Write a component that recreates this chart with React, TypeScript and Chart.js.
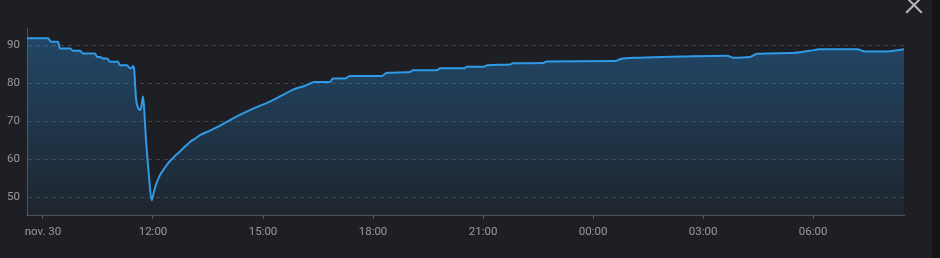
import React, { useEffect, useRef } from "react";
import { Chart, registerables } from "chart.js";

Chart.register(...registerables);

// time in hours since nov. 30 00:00
const times: number[] = [
  8.564, 9.136, 9.218, 9.409, 9.464, 9.736, 9.818, 10.009, 10.091, 10.418,
  10.473, 10.554, 10.636, 10.745, 10.827, 11.045, 11.1, 11.291, 11.373, 11.427,
  11.454, 11.482, 11.536, 11.591, 11.645, 11.686, 11.727, 11.754, 11.809, 11.877,
  11.964, 12.027, 12.109, 12.191, 12.327, 12.463, 12.6, 12.736, 12.873, 13.009,
  13.145, 13.282, 13.554, 13.827, 14.181, 14.509, 14.781, 15.109, 15.463, 15.818,
  16.145, 16.418, 16.827, 16.909, 17.236, 17.372, 18.245, 18.381, 19.008, 19.09,
  19.745, 19.827, 20.481, 20.563, 21.026, 21.108, 21.736, 21.817, 22.636, 22.744,
  24.599, 24.735, 25.28, 26.453, 27.653, 27.817, 28.28, 28.471, 29.371, 29.917,
  30.19, 31.198, 31.416, 32.098, 32.48,
];
const values: number[] = [
  91.8, 91.8, 90.9, 90.9, 89.1, 89.1, 88.5, 88.5, 87.8, 87.8,
  86.9, 86.9, 86.5, 86.5, 85.6, 85.6, 84.7, 84.7, 83.9, 84.0,
  84.5, 84.0, 76.0, 73.5, 72.9, 74.0, 76.5, 74.0, 65.0, 57.0,
  49.2, 51.5, 54.0, 55.8, 57.8, 59.5, 60.8, 62.0, 63.3, 64.5,
  65.4, 66.3, 67.5, 68.8, 70.7, 72.3, 73.5, 74.8, 76.5, 78.3,
  79.3, 80.3, 80.3, 81.2, 81.2, 81.9, 81.9, 82.7, 82.9, 83.4,
  83.4, 83.9, 83.9, 84.3, 84.3, 84.7, 84.9, 85.2, 85.3, 85.7,
  85.8, 86.3, 86.7, 87.0, 87.2, 86.7, 86.9, 87.7, 87.9, 88.5,
  88.9, 88.9, 88.3, 88.4, 88.9,
];
const xTicks: number[] = [9, 12, 15, 18, 21, 24, 27, 30];
const xTickLabels: string[] = ["nov. 30", "12:00", "15:00", "18:00", "21:00", "00:00", "03:00", "06:00"];
const yTicks: number[] = [50, 60, 70, 80, 90];

const X_MIN = 8.564;
const X_MAX = 32.48;
const Y_MIN = 45.3;
const Y_MAX = 94.5;

export default function App() {
  const ref = useRef<HTMLCanvasElement | null>(null);

  useEffect(() => {
    document.body.style.margin = "0";
    document.body.style.background = "#1e1f24";
    const canvas = ref.current;
    if (!canvas) return;
    const points = times.map((t, i) => ({ x: t, y: values[i] }));
    const chart = new Chart(canvas, {
      type: "line",
      data: {
        datasets: [
          {
            data: points,
            borderColor: "#2f9ae6",
            borderWidth: 2,
            pointRadius: 0,
            cubicInterpolationMode: "monotone",
            fill: "start",
            backgroundColor: (ctx: any) => {
              const area = ctx.chart.chartArea;
              if (!area) return "rgba(40,140,220,0.3)";
              const g = ctx.chart.ctx.createLinearGradient(0, area.top, 0, area.bottom);
              g.addColorStop(0, "rgba(40,140,220,0.38)");
              g.addColorStop(1, "rgba(40,140,220,0.06)");
              return g;
            },
          },
        ],
      },
      options: {
        animation: false,
        responsive: false,
        maintainAspectRatio: false,
        layout: { padding: { top: 28, right: 36, left: 0, bottom: 0 } },
        plugins: { legend: { display: false }, tooltip: { enabled: false } },
        scales: {
          x: {
            type: "linear",
            min: X_MIN,
            max: X_MAX,
            afterBuildTicks: (axis: any) => {
              axis.ticks = xTicks.map((v) => ({ value: v }));
            },
            afterFit: (axis: any) => {
              axis.height = 43;
            },
            ticks: {
              color: "#9a9a9c",
              font: { family: "Roboto", size: 11.5 },
              padding: 6,
              maxRotation: 0,
              autoSkip: false,
              callback: (v: any) => {
                const i = xTicks.indexOf(Number(v));
                return i >= 0 ? xTickLabels[i] : "";
              },
            },
            grid: {
              drawOnChartArea: false,
              drawTicks: true,
              tickLength: 4,
              color: "rgba(255,255,255,0.25)",
            },
            border: { display: true, color: "rgba(255,255,255,0.22)", width: 1 },
          },
          y: {
            type: "linear",
            min: Y_MIN,
            max: Y_MAX,
            afterBuildTicks: (axis: any) => {
              axis.ticks = yTicks.map((v) => ({ value: v }));
            },
            afterFit: (axis: any) => {
              axis.width = 27;
            },
            ticks: {
              color: "#9a9a9c",
              font: { family: "Roboto", size: 11.5 },
              padding: 7,
            },
            grid: {
              drawTicks: false,
              color: "rgba(255,255,255,0.16)",
            },
            border: { display: true, color: "rgba(255,255,255,0.22)", width: 1, dash: [4, 4] },
          },
        },
      },
    } as any);
    return () => chart.destroy();
  }, []);

  return (
    <div style={{ position: "relative", width: 940, height: 258, background: "#1e1f24", overflow: "hidden" }}>
      <canvas ref={ref} width={940} height={258} style={{ display: "block" }} />
      <div style={{ position: "absolute", left: 904, top: -5, width: 20, height: 20 }}>
        <div style={{ position: "absolute", left: -1, top: 9, width: 22, height: 2, background: "#b8b8b8", transform: "rotate(45deg)" }} />
        <div style={{ position: "absolute", left: -1, top: 9, width: 22, height: 2, background: "#b8b8b8", transform: "rotate(-45deg)" }} />
      </div>
      <div style={{ position: "absolute", left: 932, top: 0, width: 8, height: 258, background: "#141417" }} />
    </div>
  );
}
